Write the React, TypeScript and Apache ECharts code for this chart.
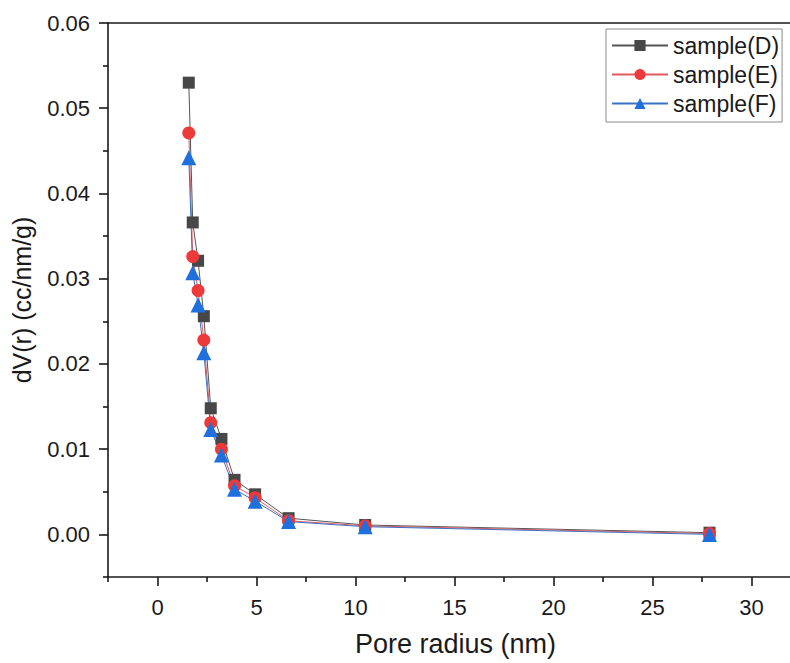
import React, { useEffect, useRef } from "react";
import * as echarts from "echarts";

const poreRadius = [1.58, 1.78, 2.05, 2.34, 2.69, 3.23, 3.89, 4.93, 6.62, 10.49, 27.88];
const sampleD = [0.053, 0.0366, 0.0321, 0.0256, 0.0148, 0.0112, 0.0064, 0.0047, 0.0019, 0.0011, 0.0002];
const sampleE = [0.0471, 0.0326, 0.0286, 0.0228, 0.0131, 0.01, 0.0057, 0.0043, 0.0016, 0.001, 0.0001];
const sampleF = [0.0442, 0.0307, 0.0269, 0.0213, 0.0123, 0.0093, 0.0053, 0.0039, 0.0015, 0.0009, 0.0];
const seriesNames = ["sample(D)", "sample(E)", "sample(F)"];
const yMajorTicks = [0, 0.01, 0.02, 0.03, 0.04, 0.05, 0.06];
const yMinorTicks = [-0.005, 0.005, 0.015, 0.025, 0.035, 0.045, 0.055];
const xMajorTicks = [0, 5, 10, 15, 20, 25, 30];
const xMinorTicks = [-2.5, 2.5, 7.5, 12.5, 17.5, 22.5, 27.5, 32.5];

const FONT = "'Liberation Sans', Arial, Helvetica, sans-serif";
const AXIS_COLOR = "#1a1a1a";

export default function App() {
  const ref = useRef<HTMLDivElement>(null);
  useEffect(() => {
    if (!ref.current) return;
    const chart = echarts.init(ref.current, undefined, { renderer: "svg" });
    const pair = (ys: number[]) => poreRadius.map((x, i) => [x, ys[i]]);
    const axisLine = { show: true, onZero: false, lineStyle: { color: AXIS_COLOR, width: 1.6 } };
    const hiddenLine = { show: false, onZero: false };
    chart.setOption({
      animation: false,
      backgroundColor: "#ffffff",
      grid: {
        left: 108,
        top: 23,
        width: 693,
        height: 554,
        containLabel: false,
        outerBoundsMode: "none",
      },
      legend: {
        orient: "vertical",
        left: 606,
        top: 29,
        padding: [5, 3, 7, 5],
        itemWidth: 56,
        itemHeight: 14,
        itemGap: 6,
        borderColor: "#8a8a8a",
        borderWidth: 1,
        backgroundColor: "#ffffff",
        textStyle: { fontFamily: FONT, fontSize: 23, color: AXIS_COLOR, lineHeight: 22 },
        data: seriesNames,
      },
      xAxis: [
        {
          type: "value",
          position: "bottom",
          min: -2.5,
          max: 32.5,
          axisLine,
          splitLine: { show: false },
          axisTick: { show: true, customValues: xMajorTicks, length: 9, lineStyle: { color: AXIS_COLOR, width: 1.6 } },
          axisLabel: {
            show: true,
            customValues: xMajorTicks,
            margin: 19,
            fontFamily: FONT,
            fontSize: 22,
            color: AXIS_COLOR,
          },
        },
        {
          type: "value",
          position: "bottom",
          min: -2.5,
          max: 32.5,
          axisLine: hiddenLine,
          splitLine: { show: false },
          axisTick: { show: true, customValues: xMinorTicks, length: 5, lineStyle: { color: AXIS_COLOR, width: 1.6 } },
          axisLabel: { show: false },
        },
        {
          type: "value",
          position: "top",
          min: -2.5,
          max: 32.5,
          axisLine,
          splitLine: { show: false },
          axisTick: { show: false },
          axisLabel: { show: false },
        },
      ],
      yAxis: [
        {
          type: "value",
          position: "left",
          min: -0.005,
          max: 0.06,
          name: "dV(r) (cc/nm/g)",
          nameLocation: "middle",
          nameGap: 74,
          nameTextStyle: { fontFamily: FONT, fontSize: 25, color: AXIS_COLOR },
          axisLine,
          splitLine: { show: false },
          axisTick: { show: true, customValues: yMajorTicks, length: 9, lineStyle: { color: AXIS_COLOR, width: 1.6 } },
          axisLabel: {
            show: true,
            customValues: yMajorTicks,
            margin: 18,
            fontFamily: FONT,
            fontSize: 22,
            color: AXIS_COLOR,
            formatter: (v: number) => v.toFixed(2),
          },
        },
        {
          type: "value",
          position: "left",
          min: -0.005,
          max: 0.06,
          axisLine: hiddenLine,
          splitLine: { show: false },
          axisTick: { show: true, customValues: yMinorTicks, length: 5, lineStyle: { color: AXIS_COLOR, width: 1.6 } },
          axisLabel: { show: false },
        },
      ],
      graphic: [
        {
          type: "text",
          left: 355,
          top: 630,
          style: {
            text: "Pore radius (nm)",
            fontFamily: FONT,
            fontSize: 27,
            fill: AXIS_COLOR,
          },
        },
      ],
      series: [
        {
          name: seriesNames[0],
          type: "line",
          data: pair(sampleD),
          symbol: "rect",
          symbolSize: 12,
          itemStyle: { color: "#474747" },
          lineStyle: { color: "#555555", width: 1 },
        },
        {
          name: seriesNames[1],
          type: "line",
          data: pair(sampleE),
          symbol: "circle",
          symbolSize: 13,
          itemStyle: { color: "#ec3a3b" },
          lineStyle: { color: "#e05a5e", width: 1 },
        },
        {
          name: seriesNames[2],
          type: "line",
          data: pair(sampleF),
          symbol: "triangle",
          symbolSize: 15,
          itemStyle: { color: "#1f6fdc" },
          lineStyle: { color: "#3a72c4", width: 1 },
        },
      ],
    });
    return () => chart.dispose();
  }, []);
  return (
    <div
      ref={ref}
      style={{ position: "absolute", left: 0, top: 0, width: 790, height: 663 }}
    />
  );
}
